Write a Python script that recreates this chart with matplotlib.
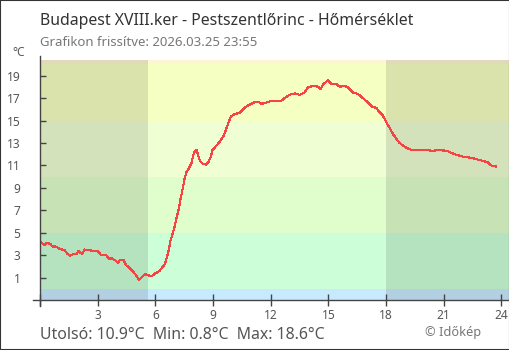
import matplotlib
matplotlib.use("Agg")
import matplotlib.pyplot as plt
from matplotlib.patches import Rectangle

plt.rcParams['font.family'] = ['Noto Sans', 'DejaVu Sans']

# Temperature readings over the day (hour of day, °C)
hours = [0.04, 0.21, 0.36, 0.54, 0.62, 0.85, 1.02, 1.28, 1.42, 1.57, 1.75, 1.89,
         2.01, 2.18, 2.32, 2.58, 2.75, 3.01, 3.19, 3.41, 3.59, 3.74, 3.91, 4.05,
         4.17, 4.33, 4.49, 4.75, 4.92, 5.06, 5.15, 5.30, 5.47, 5.61, 5.82, 5.99,
         6.22, 6.37, 6.50, 6.58, 6.67, 6.79, 6.90, 7.02, 7.11, 7.22, 7.31, 7.42,
         7.52, 7.62, 7.76, 7.88, 8.00, 8.14, 8.23, 8.32, 8.46, 8.66, 8.78, 8.89,
         8.98, 9.18, 9.39, 9.56, 9.67, 9.79, 9.93, 10.14, 10.40, 10.62, 10.88,
         11.14, 11.35, 11.52, 11.78, 12.04, 12.56, 12.73, 12.99, 13.25, 13.51,
         13.77, 13.94, 14.24, 14.46, 14.59, 14.72, 14.98, 15.16, 15.42, 15.59,
         15.85, 16.02, 16.28, 16.54, 16.80, 17.06, 17.29, 17.50, 17.67, 17.84,
         18.02, 18.19, 18.36, 18.54, 18.71, 18.88, 19.06, 19.32, 19.66, 20.10,
         20.36, 20.70, 21.14, 21.40, 21.66, 22.00, 22.44, 22.78, 23.13, 23.30,
         23.48, 23.74]
temps = [4.2, 3.9, 4.08, 4.0, 3.78, 3.76, 3.55, 3.45, 3.13, 2.96, 3.1, 3.1,
         3.37, 3.1, 3.5, 3.45, 3.37, 3.37, 2.98, 3.05, 2.7, 2.7, 2.54, 2.33,
         2.6, 2.6, 2.1, 1.71, 1.36, 1.05, 0.8, 1.05, 1.32, 1.2, 1.15, 1.36,
         1.6, 1.94, 2.2, 2.69, 3.2, 4.32, 4.9, 5.65, 6.4, 7.13, 8.0, 8.9,
         9.8, 10.4, 10.8, 11.2, 12.09, 12.4, 11.9, 11.43, 11.14, 11.08, 11.35, 11.8,
         12.39, 12.77, 13.2, 13.66, 14.17, 14.75, 15.35, 15.6, 15.68, 16.1, 16.4,
         16.62, 16.68, 16.48, 16.6, 16.77, 16.77, 17.0, 17.3, 17.42, 17.3,
         17.5, 17.96, 18.1, 18.02, 17.8, 18.2, 18.6, 18.26, 18.26, 18.02,
         18.08, 17.96, 17.5, 17.37, 17.0, 16.62, 16.24, 16.12, 15.73, 15.44,
         14.84, 14.34, 13.81, 13.37, 13.0, 12.77, 12.57, 12.39, 12.41, 12.41,
         12.3, 12.35, 12.32, 12.12, 11.94, 11.79, 11.68, 11.52, 11.37, 11.26,
         11.0, 10.9]

# Temperature bands behind the curve
band_edges = [-1, 0, 5, 10, 15, 20, 20.4]
band_colors = ['#c8eafe', '#ccffd8', '#e0fecc', '#effed3', '#f6ffc2', '#fdf6d2']

# Night periods (before sunrise, after sunset)
night_spans = [(0, 5.6), (18.0, 24.4)]

xticks = [3, 6, 9, 12, 15, 18, 21, 24]
yticks = [1, 3, 5, 7, 9, 11, 13, 15, 17, 19]

title = "Budapest XVIII.ker - Pestszentlőrinc - Hőmérséklet"
subtitle = "Grafikon frissítve: 2026.03.25 23:55"
footer = "Utolsó: 10.9°C  Min: 0.8°C  Max: 18.6°C"
credit = "© Időkép"

W, H = 510, 350
fig = plt.figure(figsize=(W / 100, H / 100), dpi=100)
fig.patch.set_facecolor('white')

x0, x1, y0, y1 = 40, 509, 60, 300
ax = fig.add_axes([x0 / W, 1 - y1 / H, (x1 - x0) / W, (y1 - y0) / H])
ax.set_xlim(0, 24.4)
ax.set_ylim(-1, 20.4)

for lo, hi, c in zip(band_edges[:-1], band_edges[1:], band_colors):
    ax.axhspan(lo, hi, color=c, lw=0, zorder=0)
for a, b in night_spans:
    ax.axvspan(a, b, color='black', alpha=0.11, lw=0, zorder=0.5)

ax.plot(hours, temps, color='#f44444', lw=0.8, antialiased=False, zorder=3)

for s in ax.spines.values():
    s.set_visible(False)

axis_col = '#444444'
ax.plot([0, 0], [-0.027, 1.017], transform=ax.transAxes, color=axis_col,
        lw=1.0, clip_on=False, zorder=4)
ax.plot([-0.015, 1.0], [0, 0], transform=ax.transAxes, color=axis_col,
        lw=1.0, clip_on=False, zorder=4)

ax.set_xticks([0] + xticks)
ax.set_xticklabels([''] + [str(t) for t in xticks])
ax.set_yticks(yticks)
ax.set_yticklabels([str(t) for t in yticks])
ax.tick_params(axis='x', direction='inout', length=8.6, width=1.0,
               color=axis_col, labelcolor='#555555', labelsize=8.6, pad=2)
ax.tick_params(axis='y', direction='in', length=4.6, width=1.0,
               color=axis_col, labelcolor='#555555', labelsize=8.6, pad=14)

fig.text(40 / W, 1 - 25 / H, title, fontsize=11.4, color='#333333', va='baseline')
fig.text(40 / W, 1 - 46 / H, subtitle, fontsize=9.5, color='#777777', va='baseline')
fig.text(12 / W, 1 - 56 / H, "°C", fontsize=8.6, color='#555555', va='baseline')
fig.text(40 / W, 1 - 339 / H, footer, fontsize=11.4, color='#555555', va='baseline')
fig.text(425 / W, 1 - 336 / H, credit, fontsize=9.2, color='#777777', va='baseline')

fig.patches.append(Rectangle((0, 0), 1, 1, transform=fig.transFigure,
                             fill=False, ec='#333333', lw=1.5))

fig.savefig('out.png', dpi=100, facecolor='white')
